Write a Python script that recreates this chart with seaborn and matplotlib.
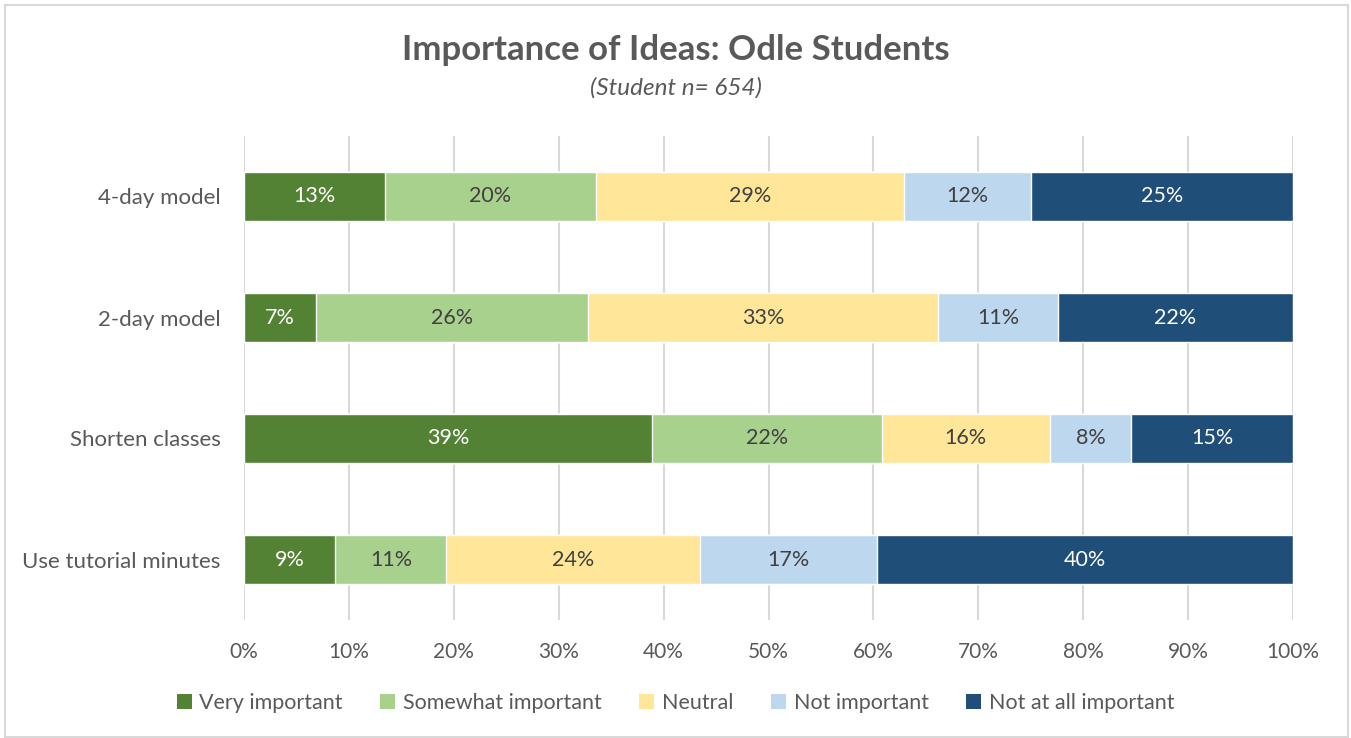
import numpy as np
import pandas as pd
import matplotlib
matplotlib.use("Agg")
import matplotlib.pyplot as plt
from matplotlib.patches import Patch, Rectangle
import seaborn as sns

# Survey data (percent of respondents)
ideas = ["4-day model", "2-day model", "Shorten classes", "Use tutorial minutes"]
levels = ["Very important", "Somewhat important", "Neutral", "Not important", "Not at all important"]
very_important = [13.4, 6.9, 38.9, 8.7]
somewhat_important = [20.2, 25.9, 21.9, 10.6]
neutral = [29.3, 33.4, 16.0, 24.2]
not_important = [12.1, 11.4, 7.8, 16.8]
not_at_all_important = [25.0, 22.4, 15.4, 39.7]
x_ticks = [0, 10, 20, 30, 40, 50, 60, 70, 80, 90, 100]

colors = ["#548235", "#A9D18E", "#FFE699", "#BDD7EE", "#1F4E79"]
label_colors = ["white", "#404040", "#404040", "#404040", "white"]
text_grey = "#595959"

sns.set_theme(style="white")
plt.rcParams["font.family"] = ["Lato", "DejaVu Sans"]

series = [very_important, somewhat_important, neutral, not_important, not_at_all_important]
df = pd.DataFrame({lvl: vals for lvl, vals in zip(levels, series)}, index=ideas)
cum = df.cumsum(axis=1)

fig = plt.figure(figsize=(13.51, 7.38), dpi=100)
W, H = 1351, 738
ax = fig.add_axes([244 / W, 1 - 620 / H, (1293 - 244) / W, (620 - 136) / H])

# stacked bars: draw cumulative totals from the longest to the shortest
for k in range(len(levels) - 1, -1, -1):
    sns.barplot(x=cum[levels[k]].values, y=ideas, orient="h", color=colors[k],
                saturation=1, width=0.4, ax=ax, zorder=3)

# segment labels
for i, idea in enumerate(ideas):
    for k, lvl in enumerate(levels):
        v = df.loc[idea, lvl]
        xc = cum.loc[idea, lvl] - v / 2
        ax.text(xc, i, f"{v:.0f}%", ha="center", va="center",
                color=label_colors[k], fontsize=15.5, zorder=5)

ax.set_xlim(0, 100)
ax.set_ylim(3.5, -0.5)
ax.set_xticks(x_ticks)
ax.set_xticklabels([f"{t}%" for t in x_ticks])
ax.set_xlabel("")
ax.set_ylabel("")
ax.grid(axis="x", color="#D9D9D9", linewidth=1.5, zorder=0)
ax.grid(axis="y", visible=False)
for s in ax.spines.values():
    s.set_visible(False)
ax.tick_params(axis="x", length=0, labelsize=15, labelcolor=text_grey, pad=16)
ax.tick_params(axis="y", length=0, labelsize=16, labelcolor=text_grey, pad=17)

# titles
fig.text(0.5, 1 - 50 / H, "Importance of Ideas: Odle Students", ha="center", va="center",
         fontsize=25, fontweight="bold", color=text_grey)
fig.text(0.5, 1 - 88 / H, "(Student n= 654)", ha="center", va="center",
         fontsize=17.5, fontstyle="italic", color=text_grey)

# legend
handles = [Patch(facecolor=c, edgecolor="none") for c in colors]
fig.legend(handles, levels, loc="center", bbox_to_anchor=(0.5, 1 - 703 / H), ncol=5,
           frameon=False, fontsize=15.5, handlelength=0.7, handleheight=0.7,
           handletextpad=0.35, columnspacing=1.75, labelcolor=text_grey)

# chart border
fig.patches.append(Rectangle((5 / W, 1 / H), 1343 / W, 732 / H, transform=fig.transFigure,
                             fill=False, edgecolor="#D9D9D9", linewidth=1.5))

fig.savefig("out.png", dpi=100)
